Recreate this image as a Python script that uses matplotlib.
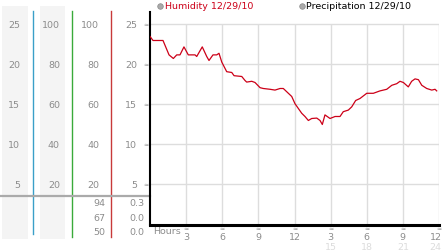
import numpy as np
import matplotlib.pyplot as plt

# Datos (hora, humedad)
horas = [0, 0.25, 1.08, 1.58, 1.94, 2.22, 2.49, 2.82, 3.18, 3.74, 3.88, 4.34,
         4.71, 4.90, 5.23, 5.54, 5.73, 5.96, 6.37, 6.79, 6.98, 7.62, 7.89,
         8.03, 8.45, 8.72, 9.14, 9.41, 9.97, 10.38, 10.80, 11.07, 11.35,
         11.77, 12.04, 12.32, 12.60, 12.87, 13.15, 13.43, 13.85, 14.12,
         14.31, 14.53, 14.95, 15.37, 15.78, 16.05, 16.47, 16.75, 17.08,
         17.44, 18.00, 18.55, 19.10, 19.66, 20.08, 20.49, 20.76, 21.04,
         21.45, 21.73, 22.01, 22.29, 22.57, 22.98, 23.40, 23.67, 23.81]
humedad = [23.5, 23.0, 23.0, 21.2, 20.75, 21.2, 21.2, 22.2, 21.2, 21.2, 21.0,
           22.2, 21.0, 20.5, 21.2, 21.2, 21.4, 20.3, 19.1, 19.0, 18.6, 18.5,
           18.0, 17.8, 17.9, 17.75, 17.1, 17.0, 16.9, 16.8, 17.0, 17.0, 16.6,
           16.0, 15.1, 14.5, 13.9, 13.5, 13.0, 13.25, 13.3, 13.0, 12.5, 13.7,
           13.25, 13.5, 13.5, 14.1, 14.3, 14.7, 15.5, 15.75, 16.4, 16.4, 16.7,
           16.9, 17.4, 17.6, 17.9, 17.75, 17.2, 17.9, 18.2, 18.1, 17.4, 17.0,
           16.8, 16.9, 16.7]

ticks_y = [5, 10, 15, 20, 25]
col1 = ['5', '10', '15', '20', '25']
col2 = ['20', '40', '60', '80', '100']
col3 = ['20', '40', '60', '80', '100']
col4 = ['5', '10', '15', '20', '25']
filas_col3 = ['94', '67', '50']
filas_col4 = ['0.3', '0.0', '0.0']
ticks_x = [3, 6, 9, 12, 15, 18, 21, 24]
etiquetas_x = ['3', '6', '9', '12', '3', '6', '9', '12']
etiquetas_x2 = ['', '', '', '', '15', '18', '21', '24']

W, H = 442, 253
gris = '#8c8c8c'
plt.rcParams['font.family'] = 'DejaVu Sans'
fig = plt.figure(figsize=(W / 100, H / 100), dpi=100)

# fondo en coordenadas de pixel
bg = fig.add_axes([0, 0, 1, 1], zorder=-1)
bg.set_xlim(0, W)
bg.set_ylim(H, 0)
bg.axis('off')

ax = fig.add_axes([150 / W, 27.5 / H, 289 / W, 212.5 / H])
ax.set_xlim(0, 24)
ax.set_ylim(0, 26.56)
ax.patch.set_alpha(0)

ax.vlines(ticks_x, 0, 25, color='#dddddd', lw=1, zorder=0)
ax.hlines(ticks_y, 0, 24, color='#dddddd', lw=1, zorder=0)
ax.plot(horas, humedad, color='#cc0018', lw=0.9, zorder=3)

for s in ['top', 'right']:
    ax.spines[s].set_visible(False)
ax.spines['left'].set_linewidth(1.5)
ax.spines['bottom'].set_linewidth(2.2)
ax.set_xticks([])
ax.set_yticks([])


def y_pix(v):
    return H - ax.transData.transform((0, v))[1]


def x_pix(h):
    return ax.transData.transform((h, 0))[0]


# columnas de la izquierda
bg.add_patch(plt.Rectangle((2, 7), 26, 233, color='#f4f4f4', lw=0))
bg.add_patch(plt.Rectangle((40, 7), 25, 233, color='#f4f4f4', lw=0))
bg.plot([33.3, 33.3], [12, 235], color='#3a9fc8', lw=1)
bg.plot([72.3, 72.3], [12, 238], color='#3aaa3a', lw=1)
bg.plot([111, 111], [12, 238], color='#c83a3a', lw=1)
bg.plot([0, 150], [197, 197], color='#aaaaaa', lw=1.6)

fs = 6.8
for i, v in enumerate(ticks_y):
    y = y_pix(v)
    bg.text(20, y, col1[i], ha='right', va='center', fontsize=fs, color=gris)
    bg.text(60, y, col2[i], ha='right', va='center', fontsize=fs, color=gris)
    bg.text(99, y, col3[i], ha='right', va='center', fontsize=fs, color=gris)
    bg.text(137, y, col4[i], ha='right', va='center', fontsize=fs, color=gris)
    bg.text(145.5, y, '≈', ha='center', va='center', fontsize=4.5,
            color=gris)

for i, yy in enumerate([204, 218.5, 232.3]):
    bg.text(105, yy, filas_col3[i], ha='right', va='center', fontsize=fs,
            color=gris)
    bg.text(144, yy, filas_col4[i], ha='right', va='center', fontsize=fs,
            color=gris)

# etiquetas del eje x
bg.text(153, 232, 'Hours', ha='left', va='center', fontsize=fs, color=gris)
for i, h in enumerate(ticks_x):
    x = x_pix(h)
    bg.text(x, 229.5, '≈', ha='center', va='center', fontsize=4.5,
            color=gris)
    if i == len(ticks_x) - 1:
        bx, ha = W - 0.5, 'right'
    else:
        bx, ha = x, 'center'
    bg.text(bx, 237.5, etiquetas_x[i], ha=ha, va='center', fontsize=fs,
            color=gris)
    bg.text(bx, 247.5, etiquetas_x2[i], ha=ha, va='center',
            fontsize=fs, color='#dcdcdc')

# leyenda
bg.plot([160], [6.7], 'o', ms=4, color='#aaaaaa', mec='#888888', mew=0.5)
bg.text(165, 6.7, 'Humidity 12/29/10', ha='left', va='center', fontsize=fs,
        color='#cc0018')
bg.plot([301.7], [6.7], 'o', ms=4, color='#aaaaaa', mec='#888888', mew=0.5)
bg.text(306.5, 6.7, 'Precipitation 12/29/10', ha='left', va='center',
        fontsize=fs, color='black')

fig.savefig('out.png', dpi=100)
